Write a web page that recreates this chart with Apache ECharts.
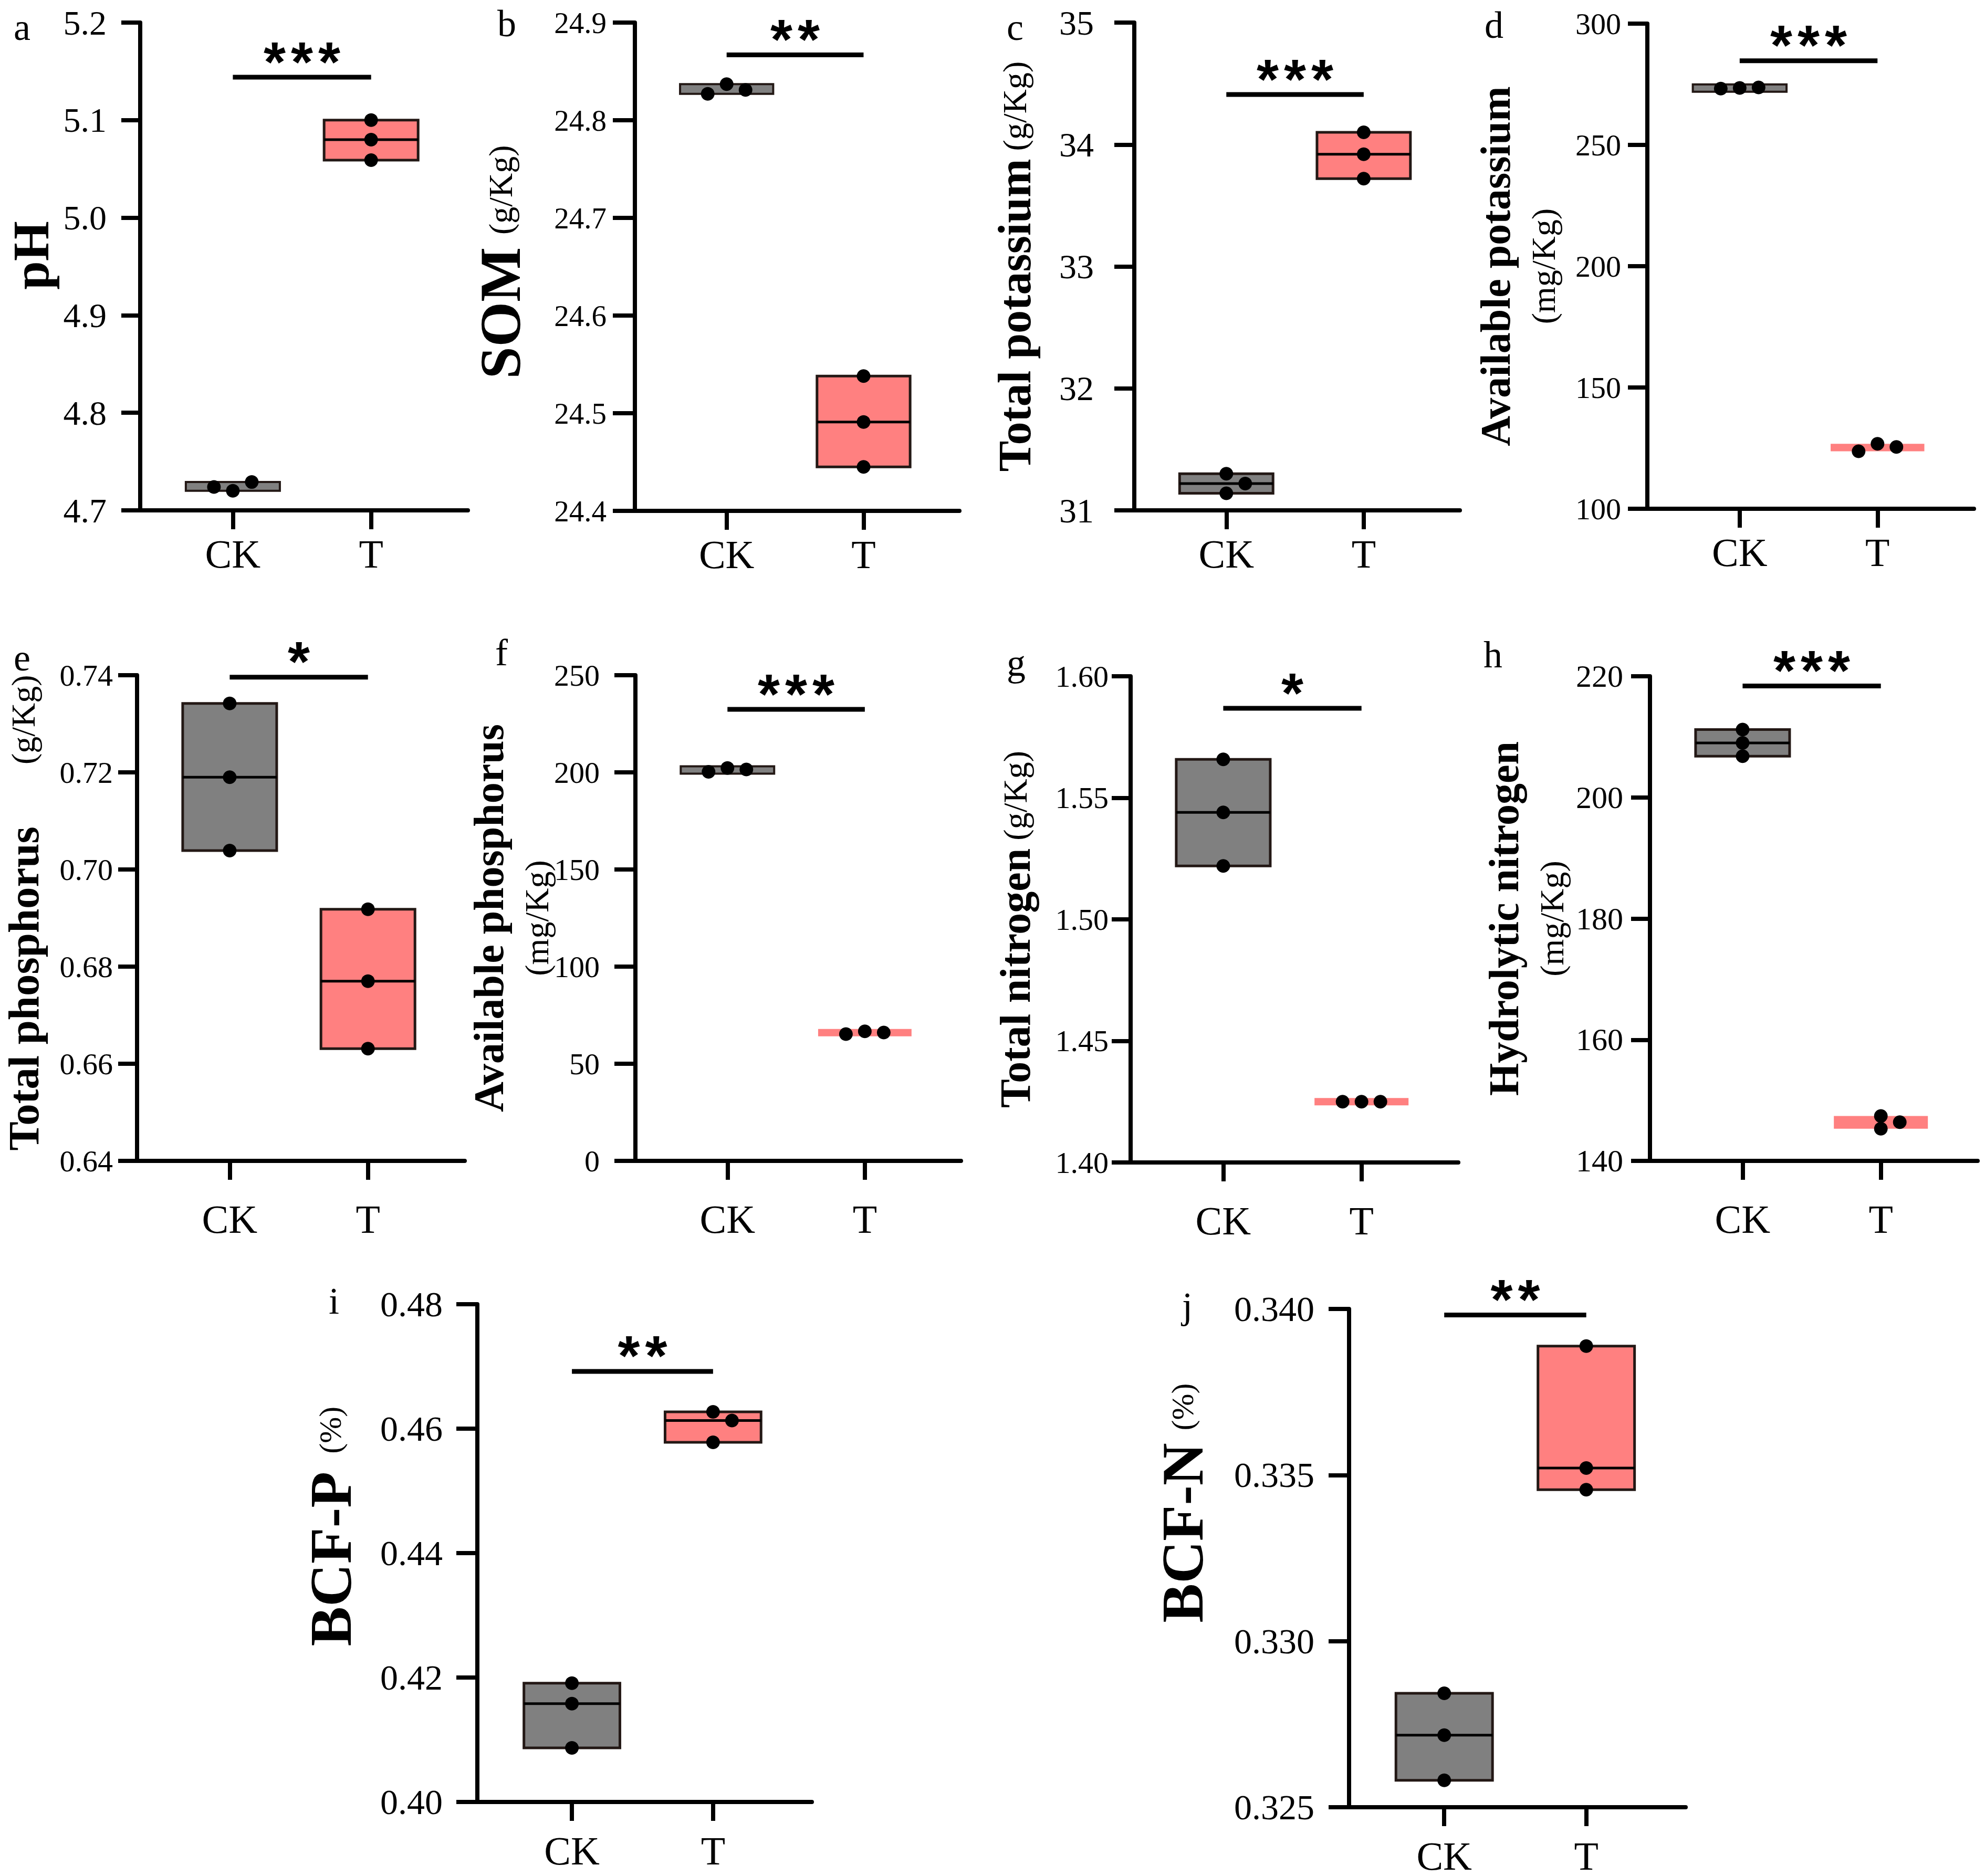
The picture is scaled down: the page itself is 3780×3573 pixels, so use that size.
<!doctype html>
<html lang="en">
  <head>
    <meta charset="UTF-8" />
    <meta name="viewport" content="width=device-width, initial-scale=1.0" />
    <title>Soil properties CK vs T</title>
    <style>
      html,
      body {
        width: 100%;
        height: 100%;
        margin: 0;
        padding: 0;
        background: #fff;
      }
      #Echart {
        width: 100%;
        height: 100%;
      }
    </style>
  </head>

  <body>
    <div id="Echart"></div>
    <script src="https://cdn.jsdelivr.net/npm/echarts@6/dist/echarts.min.js"></script>
    <script type="text/javascript">
      // data
      const groups = ['CK', 'T']
      const panelLetters = ['a', 'b', 'c', 'd', 'e', 'f', 'g', 'h', 'i', 'j']
      const titleNames = ['pH', 'SOM', 'Total potassium', 'Available potassium', 'Total phosphorus',
        'Available phosphorus', 'Total nitrogen', 'Hydrolytic nitrogen', 'BCF-P', 'BCF-N']
      const titleUnits = ['', '(g/Kg)', '(g/Kg)', '(mg/Kg)', '(g/Kg)', '(mg/Kg)', '(g/Kg)', '(mg/Kg)', '(%)', '(%)']
      const ckValues = [
        [4.720, 4.729, 4.724],
        [24.837, 24.831, 24.827],
        [31.14, 31.30, 31.22],
        [273.5, 273.7, 273.2],
        [0.7342, 0.7190, 0.7039],
        [202.2, 201.5, 200.3],
        [1.5658, 1.5440, 1.5220],
        [211.2, 209.0, 206.8],
        [0.4191, 0.4158, 0.4087],
        [0.32843, 0.32717, 0.32581],
      ]
      const tValues = [
        [5.100, 5.080, 5.059],
        [24.538, 24.491, 24.445],
        [34.10, 33.92, 33.72],
        [126.8, 125.5, 123.7],
        [0.6918, 0.6770, 0.6631],
        [66.7, 66.1, 65.3],
        [1.425, 1.425, 1.425],
        [147.4, 145.3, 146.4],
        [0.4578, 0.4627, 0.4613],
        [0.33888, 0.33521, 0.33456],
      ]
      const yMin = [4.7, 24.4, 31, 100, 0.64, 0, 1.40, 140, 0.40, 0.325]
      const yMax = [5.2, 24.9, 35, 300, 0.74, 250, 1.60, 220, 0.48, 0.340]
      const yStep = [0.1, 0.1, 1, 50, 0.02, 50, 0.05, 20, 0.02, 0.005]
      const yDecimals = [1, 1, 0, 0, 2, 0, 2, 0, 2, 3]
      const sigLevel = [5.144, 24.867, 34.41, 284.7, 0.7396, 232.4, 1.5868, 218.4, 0.4692, 0.33982]
      const sigStars = ['***', '**', '***', '***', '*', '***', '*', '***', '**', '**']

      // layout: [left, top, right, bottom] of each plot area, in px
      const layout = [
        { box: [267, 43, 891, 972], tick: 66, lblMargin: 64, tickLen: 36, nameGap: 152, shift: 21, bold: 98, unit: 64, twoLine: false, unitPad: 15, letter: [42, 52], xMargin: 45 },
        { box: [1209, 43, 1827, 973], tick: 57, lblMargin: 54, tickLen: 42, nameGap: 193, shift: 9, bold: 110, unit: 64, twoLine: false, unitPad: 24, letter: [965, 45], xMargin: 45 },
        { box: [2160, 43, 2780, 972], tick: 66, lblMargin: 77, tickLen: 38, nameGap: 177, shift: 0, bold: 88, unit: 64, twoLine: false, unitPad: 15, letter: [1933, 52], xMargin: 45 },
        { box: [3137, 45, 3759, 969], tick: 58, lblMargin: 50, tickLen: 37, nameGap: 153, shift: 0, bold: 80, unit: 64, twoLine: true, unitPad: 0, letter: [2845, 48], xMargin: 45 },
        { box: [261, 1286, 885, 2211], tick: 58, lblMargin: 46, tickLen: 36, nameGap: 169, shift: 10, bold: 83, unit: 64, twoLine: false, unitPad: 118, letter: [42, 1253], xMargin: 73 },
        { box: [1210, 1286, 1830, 2211], tick: 58, lblMargin: 68, tickLen: 40, nameGap: 143, shift: 0, bold: 80, unit: 64, twoLine: true, unitPad: 0, letter: [955, 1243], xMargin: 73 },
        { box: [2153, 1288, 2777, 2214], tick: 58, lblMargin: 42, tickLen: 36, nameGap: 173, shift: -19, bold: 82, unit: 64, twoLine: false, unitPad: 15, letter: [1935, 1263], xMargin: 73 },
        { box: [3142, 1288, 3766, 2211], tick: 60, lblMargin: 51, tickLen: 36, nameGap: 142, shift: 0, bold: 80, unit: 64, twoLine: true, unitPad: 0, letter: [2843, 1247], xMargin: 73 },
        { box: [909, 2484, 1546, 3432], tick: 68, lblMargin: 66, tickLen: 40, nameGap: 215, shift: 51, bold: 113, unit: 60, twoLine: false, unitPad: 34, letter: [636, 2478], xMargin: 55 },
        { box: [2569, 2493, 3210, 3442], tick: 68, lblMargin: 66, tickLen: 39, nameGap: 253, shift: 105, bold: 112, unit: 60, twoLine: false, unitPad: 24, letter: [2261, 2487], xMargin: 55 },
      ]

      const SERIF = "'Liberation Serif', 'Times New Roman', serif"
      const CK_FILL = '#808080'
      const T_FILL = '#ff8080'
      const EDGE = '#231815'
      const BOX_HALF = 0.34
      const DOT_SIZE = 26
      const DOT_STEP = 36
      const DOT_GAP = 22
      const STAR_PITCH = 52
      const STAR_RAISE = 30

      let chart = null

      function medianOf(arr) {
        const s = [...arr].sort((a, b) => a - b)
        const m = Math.floor(s.length / 2)
        return s.length % 2 ? s[m] : (s[m - 1] + s[m]) / 2
      }

      function renderBox(params, api) {
        const x = api.value(0)
        const lo = api.value(1)
        const hi = api.value(2)
        const med = api.value(3)
        const isCK = x === 0
        const p1 = api.coord([x - BOX_HALF, hi])
        const p2 = api.coord([x + BOX_HALF, lo])
        let top = p1[1]
        let h = p2[1] - p1[1]
        const thin = h < 30
        if (h < 14) {
          top -= (14 - h) / 2
          h = 14
        }
        const my = api.coord([x, med])[1]
        const children = [
          {
            type: 'rect',
            shape: { x: p1[0], y: top, width: p2[0] - p1[0], height: h },
            style: {
              fill: isCK ? CK_FILL : T_FILL,
              stroke: thin && !isCK ? null : EDGE,
              lineWidth: thin ? 4 : 5,
            },
          },
        ]
        if (!thin) {
          children.push({
            type: 'line',
            shape: { x1: p1[0], y1: my, x2: p2[0], y2: my },
            style: { stroke: '#000', lineWidth: 5 },
          })
        }
        return { type: 'group', children }
      }

      // spread overlapping points sideways, like a scatter dot plot
      function jitter(api, x, vals) {
        const placed = []
        return vals.map((v) => {
          const py = api.coord([x, v])[1]
          const tries = [0, 1, -1, 2, -2]
          let dx = 0
          for (const c of tries) {
            const d = c * DOT_STEP
            if (placed.every((p) => Math.hypot(p[0] - d, p[1] - py) >= DOT_GAP)) {
              dx = d
              break
            }
          }
          placed.push([dx, py])
          return dx
        })
      }

      function makeDotRenderer(idx) {
        return function (params, api) {
          const x = api.value(0)
          const v = api.value(1)
          const k = api.value(2)
          const vals = x === 0 ? ckValues[idx] : tValues[idx]
          const offs = jitter(api, x, vals)
          const p = api.coord([x, v])
          return {
            type: 'circle',
            shape: { cx: p[0] + offs[k], cy: p[1], r: DOT_SIZE / 2 },
            style: { fill: '#000' },
          }
        }
      }

      function makeSigRenderer(stars) {
        return function (params, api) {
          const y = api.value(2)
          const p0 = api.coord([api.value(0), y])
          const p1 = api.coord([api.value(1), y])
          const children = [
            {
              type: 'line',
              shape: { x1: p0[0], y1: p0[1], x2: p1[0], y2: p1[1] },
              style: { stroke: '#000', lineWidth: 9 },
            },
          ]
          const mid = (p0[0] + p1[0]) / 2
          for (let k = 0; k < stars.length; k++) {
            children.push({
              type: 'text',
              x: mid + (k - (stars.length - 1) / 2) * STAR_PITCH,
              y: p0[1] - STAR_RAISE,
              style: {
                text: '*',
                fontSize: 108,
                fontWeight: 'bold',
                fontFamily: "'Liberation Sans', Arial, sans-serif",
                fill: '#000',
                align: 'center',
                verticalAlign: 'middle',
              },
            })
          }
          return { type: 'group', children }
        }
      }

      function initEchart() {
        const grid = []
        const xAxis = []
        const yAxis = []
        const series = []
        const graphic = []

        for (let i = 0; i < titleNames.length; i++) {
          const L = layout[i]
          grid.push({
            left: L.box[0],
            top: L.box[1],
            width: L.box[2] - L.box[0],
            height: L.box[3] - L.box[1],
            containLabel: false,
            outerBoundsMode: 'none',
          })
          xAxis.push({
            gridIndex: i,
            type: 'value',
            min: -0.67,
            max: 1.7,
            splitLine: { show: false },
            axisLine: { show: true, onZero: false, lineStyle: { color: '#000', width: 8 } },
            axisTick: { show: true, customValues: [0, 1], length: 36, lineStyle: { color: '#000', width: 8 } },
            axisLabel: {
              customValues: [0, 1],
              margin: L.xMargin,
              formatter: (v) => `{t|${groups[Math.round(v)]}}`,
              color: '#000',
              fontSize: 76,
              fontFamily: SERIF,
              rich: { t: { fontSize: 76, fontFamily: SERIF, color: '#000' } },
            },
          })

          let name = `{b|${titleNames[i]}}`
          if (titleUnits[i]) name += L.twoLine ? `\n{u|${titleUnits[i]}}` : `{u|${titleUnits[i]}}`
          const pad = L.shift > 0 ? [0, 0, 0, 2 * L.shift] : [0, -2 * L.shift, 0, 0]
          yAxis.push({
            gridIndex: i,
            type: 'value',
            min: yMin[i],
            max: yMax[i],
            interval: yStep[i],
            name: name,
            nameLocation: 'middle',
            nameRotate: 90,
            nameGap: L.nameGap,
            nameMoveOverlap: false,
            nameTextStyle: {
              padding: pad,
              fontFamily: SERIF,
              rich: {
                b: {
                  fontSize: L.bold,
                  fontWeight: 'bold',
                  fontFamily: SERIF,
                  color: '#000',
                  lineHeight: Math.round(L.bold * 1.15),
                },
                u: {
                  fontSize: L.unit,
                  fontFamily: SERIF,
                  color: '#000',
                  lineHeight: 90,
                  padding: [0, 0, 0, L.unitPad],
                },
              },
            },
            splitLine: { show: false },
            axisLine: { show: true, onZero: false, lineStyle: { color: '#000', width: 8 } },
            axisTick: { show: true, length: L.tickLen, lineStyle: { color: '#000', width: 8 } },
            axisLabel: {
              margin: L.lblMargin,
              color: '#000',
              fontSize: L.tick,
              fontFamily: SERIF,
              formatter: (v) => `{t|${Number(v).toFixed(yDecimals[i])}}`,
              rich: { t: { fontSize: L.tick, fontFamily: SERIF, color: '#000' } },
            },
          })

          const boxData = [ckValues[i], tValues[i]].map((vals, g) => [
            g,
            Math.min(...vals),
            Math.max(...vals),
            medianOf(vals),
          ])
          series.push({
            type: 'custom',
            xAxisIndex: i,
            yAxisIndex: i,
            renderItem: renderBox,
            encode: { x: 0, y: [1, 2] },
            data: boxData,
            z: 2,
            silent: true,
          })

          const dotData = []
          ckValues[i].forEach((v, k) => dotData.push([0, v, k]))
          tValues[i].forEach((v, k) => dotData.push([1, v, k]))
          series.push({
            type: 'custom',
            xAxisIndex: i,
            yAxisIndex: i,
            renderItem: makeDotRenderer(i),
            encode: { x: 0, y: 1 },
            data: dotData,
            z: 3,
            silent: true,
          })

          series.push({
            type: 'custom',
            xAxisIndex: i,
            yAxisIndex: i,
            renderItem: makeSigRenderer(sigStars[i]),
            encode: { x: [0, 1], y: 2 },
            data: [[0, 1, sigLevel[i]]],
            clip: false,
            z: 3,
            silent: true,
          })

          graphic.push({
            type: 'text',
            x: L.letter[0],
            y: L.letter[1],
            style: {
              text: panelLetters[i],
              fontSize: 72,
              fontFamily: SERIF,
              fill: '#000',
              align: 'center',
              verticalAlign: 'middle',
            },
          })
        }

        const option = {
          animation: false,
          backgroundColor: '#fff',
          textStyle: { fontFamily: SERIF, color: '#000' },
          grid,
          xAxis,
          yAxis,
          series,
          graphic,
        }
        chart = echarts.init(document.getElementById('Echart'), null, { renderer: 'svg' })
        chart.setOption(option)
      }

      window.onload = function () {
        initEchart()
        window.addEventListener('resize', () => {
          chart?.resize()
        })
      }
    </script>
  </body>
</html>
